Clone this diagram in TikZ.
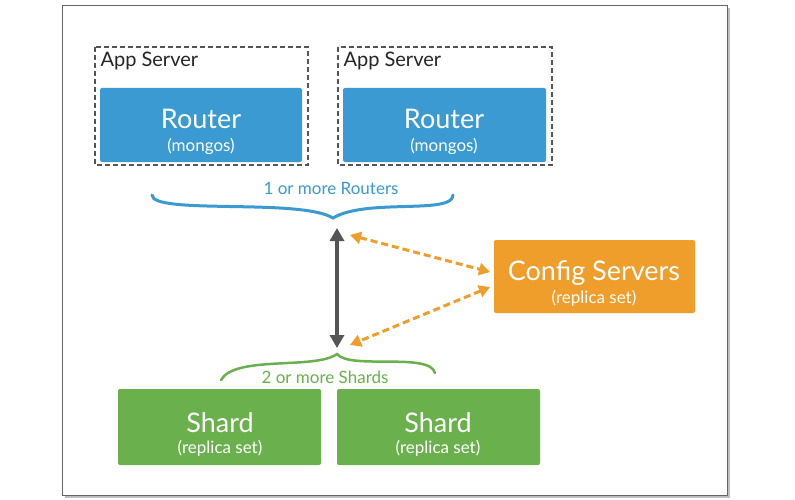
\documentclass[tikz,border=0pt]{standalone}
\usepackage{fontspec}
\setmainfont{Lato}
\usetikzlibrary{arrows.meta}
\definecolor{rblue}{HTML}{3A9AD1}
\definecolor{corange}{HTML}{EF9E2C}
\definecolor{sgreen}{HTML}{6AB04C}
\definecolor{dgray}{HTML}{555555}
\tikzset{
  big/.style={font=\fontsize{27}{30}\selectfont},
  small/.style={font=\fontsize{17}{19}\selectfont},
  appbox/.style={draw=dgray,line width=1.5pt,dash pattern=on 5pt off 3pt},
  odash/.style={draw=corange,line width=3pt,dash pattern=on 7pt off 4pt,{Triangle[length=11pt,width=12pt]}-{Triangle[length=11pt,width=12pt]}},
}
\begin{document}
\begin{tikzpicture}[x=1pt,y=-1pt]
\useasboundingbox (0,0) rectangle (795,500);
% frame
\fill[gray!50] (65,8) rectangle (730,498);
\draw[fill=white,draw=gray!80!black,line width=0.8pt] (62,5) rectangle (727,495);
% app servers
\draw[appbox] (95,47) rectangle (308,165);
\draw[appbox] (338,47) rectangle (552,165);
\node[anchor=west,font=\fontsize{20}{22}\selectfont,text=black!85] (as1) at (97,61) {App Server};
\node[anchor=west,font=\fontsize{20}{22}\selectfont,text=black!85] (as2) at (340,61) {App Server};
\fill[rblue,rounded corners=2pt] (100,88) rectangle (302,162);
\fill[rblue,rounded corners=2pt] (343,88) rectangle (546,162);
\node[big,text=white] (r1) at (201,119) {Router};
\node[small,text=white] (m1) at (201,146) {(mongos)};
\node[big,text=white] (r2) at (444,119) {Router};
\node[small,text=white] (m2) at (444,146) {(mongos)};
% blue brace
\draw[rblue,line width=3pt,line cap=round] (152,195) .. controls (152,215) and (300,198) .. (333,218) .. controls (366,198) and (453,215) .. (453,195);
\node[small,text=rblue] (lr) at (331,188) {1 or more Routers};
\coordinate (top) at (337,228);
\coordinate (bot) at (337,348);
\draw[dgray,line width=3.5pt,{Triangle[length=13pt,width=14pt]}-{Triangle[length=13pt,width=14pt]}] (top) -- (bot);
% config
\fill[corange,rounded corners=2pt] (494,240) rectangle (695,313);
\node[big,text=white] (cs) at (594,273) {Config Servers};
\node[small,text=white] (cr) at (594,298) {(replica set)};
\coordinate (c1) at (490,272);
\coordinate (c2) at (490,287);
\coordinate (t1) at (350,235);
\coordinate (t2) at (350,345);
\draw[odash] (t1) -- (c1);
\draw[odash] (c2) -- (t2);
% green brace
\draw[sgreen,line width=2.5pt,line cap=round] (221,380) .. controls (235,355) and (315,370) .. (337,354) .. controls (350,370) and (430,352) .. (435,373);
\node[small,text=sgreen] (ls) at (325,377) {2 or more Shards};
% shards
\fill[sgreen,rounded corners=2pt] (118,389) rectangle (321,465);
\fill[sgreen,rounded corners=2pt] (337,389) rectangle (540,465);
\node[big,text=white] (s1) at (220,423) {Shard};
\node[small,text=white] (s1r) at (220,448) {(replica set)};
\node[big,text=white] (s2) at (438,423) {Shard};
\node[small,text=white] (s2r) at (438,448) {(replica set)};
\end{tikzpicture}
\end{document}
